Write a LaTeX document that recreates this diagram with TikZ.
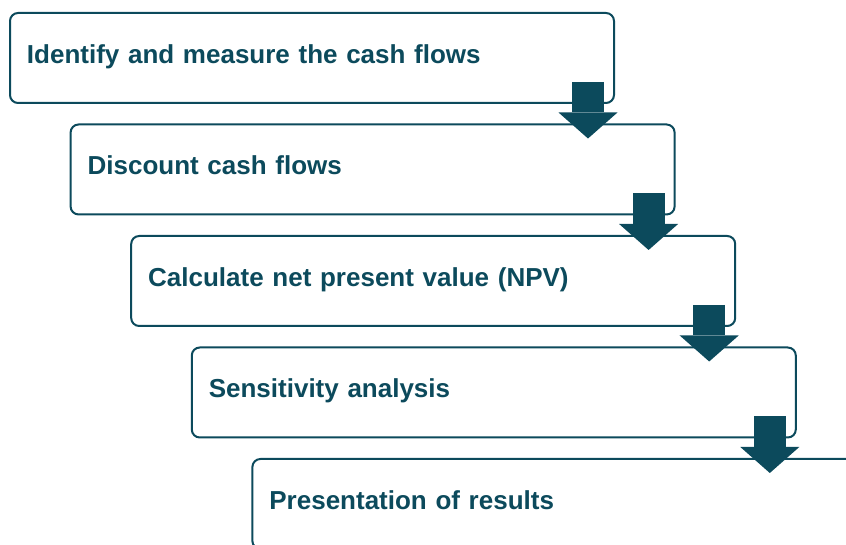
\documentclass[tikz,border=0pt]{standalone}
\usepackage{fontspec}
\setmainfont{Liberation Sans}
\usepackage{xcolor}
\usepackage{tikz}
\usetikzlibrary{arrows.meta, positioning, calc}
\definecolor{deepteal}{RGB}{12,74,92}
\tikzstyle{stepbox} = [draw=deepteal, line width=2pt, rounded corners=8pt, fill=white, minimum width=604pt, minimum height=90pt, text width=570pt, inner xsep=17pt, text height=18pt, text depth=7.5pt, align=left, text=deepteal, font=\fontsize{26}{31}\selectfont\bfseries, anchor=north west]
\tikzstyle{flow} = [draw=deepteal, line width=32pt, -{Triangle[width=59pt, length=26pt, line width=0pt]}]

\begin{document}
\begin{tikzpicture}[x=1pt, y=1pt]
        \useasboundingbox (0,0) rectangle (846,545);

        \node [stepbox] (b1) at (9,533) {Identify and measure the cash flows};
        \node [stepbox, below right=19.5pt and 60.6pt of b1.south west] (b2) {Discount cash flows};
        \node [stepbox, below right=19.5pt and 60.6pt of b2.south west] (b3) {Calculate net present value (NPV)};
        \node [stepbox, below right=19.5pt and 60.6pt of b3.south west] (b4) {Sensitivity analysis};
        \node [stepbox, below right=19.5pt and 60.6pt of b4.south west] (b5) {Presentation of results};

        \foreach \a/\b in {b1/b2, b2/b3, b3/b4, b4/b5}
            \path [flow] ($(\a.south east)+(-27,22)$) -- ($(\a.south east |- \b.north)+(-27,-15)$);
    \end{tikzpicture}
\end{document}
